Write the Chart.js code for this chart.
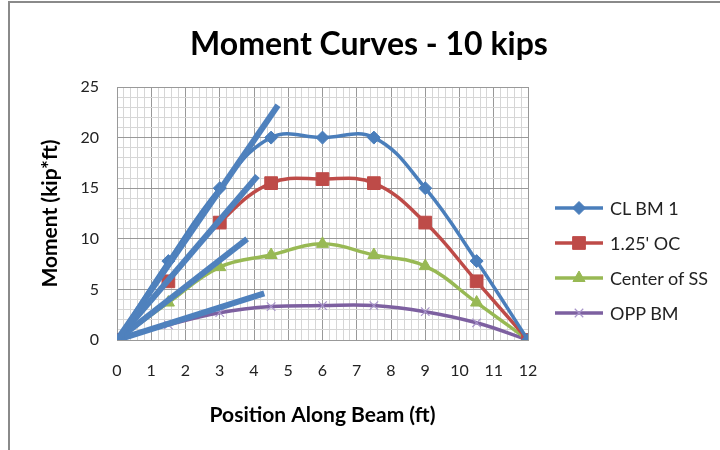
<!DOCTYPE html>
<html>
<head>
<meta charset="utf-8">
<script src="https://cdn.jsdelivr.net/npm/chart.js@4.4.0/dist/chart.umd.min.js"></script>
<style>
  html, body { margin: 0; padding: 0; background: #fff; }
  #wrap { position: relative; width: 720px; height: 450px; font-family: Lato, sans-serif; }
  #frame { position: absolute; left: 8px; top: 1px; right: 0; bottom: 0; border-top: 2px solid #8a8a8a; border-left: 2px solid #8a8a8a; pointer-events: none; }
  #title { position: absolute; left: 0; width: 738px; top: 25px; text-align: center; font-size: 32px; font-weight: bold; line-height: 36px; color: #000; }
  #legend { position: absolute; left: 553px; top: 190px; }
  .item { display: flex; align-items: center; height: 35px; font-size: 18px; color: #222; }
  .item canvas { margin-right: 5px; }
</style>
</head>
<body>
<div id="wrap">
  <canvas id="momentChart" width="720" height="450"></canvas>
  <div id="frame"></div>
  <div id="title">Moment Curves - 10 kips</div>
  <div id="legend"></div>
</div>
<script>
// valores
const positions = [0, 1.5, 3, 4.5, 6, 7.5, 9, 10.5, 12];
const clBm1 = [0, 7.8, 15, 20, 20, 20, 15, 7.8, 0];
const oc125 = [0, 5.8, 11.6, 15.5, 15.9, 15.5, 11.6, 5.8, 0];
const centerSS = [0, 3.7, 7.2, 8.4, 9.5, 8.4, 7.3, 3.7, 0];
const oppBm = [0, 1.5, 2.7, 3.3, 3.4, 3.4, 2.8, 1.7, 0];

const seriesNames = ['CL BM 1', "1.25' OC", 'Center of SS', 'OPP BM'];
const seriesColors = ['#4a7ebb', '#be4b48', '#98b954', '#7d60a0'];
const markerStyles = ['rectRot', 'rect', 'triangle', 'crossRot'];
const markerSizes = [6.5, 9, 7, 6];

// rectas gruesas desde el origen
const tangentStartX = [0, 0, 0, 0];
const tangentStartY = [0, 0, 0, 0];
const tangentEndX = [4.7, 4.1, 3.8, 4.3];
const tangentEndY = [23.2, 16.2, 10.0, 4.6];

const xLabelStep = 1;
const yLabelStep = 5;

function isMultiple(v, step) {
    return Math.abs(v / step - Math.round(v / step)) < 1e-6;
}

document.addEventListener('DOMContentLoaded', function() {
    try {
        const seriesValues = [clBm1, oc125, centerSS, oppBm];
        const datasets = [];

        tangentEndX.forEach(function(ex, i) {
            datasets.push({
                label: 'tangent ' + (i + 1),
                data: [{ x: tangentStartX[i], y: tangentStartY[i] }, { x: ex, y: tangentEndY[i] }],
                showLine: true,
                borderColor: '#4f81bd',
                borderWidth: 6,
                pointRadius: 0,
                tension: 0,
                order: -1
            });
        });

        seriesValues.forEach(function(vals, i) {
            const crossy = markerStyles[i] === 'crossRot';
            datasets.push({
                label: seriesNames[i],
                data: positions.map(function(x, j) { return { x: x, y: vals[j] }; }),
                showLine: true,
                borderColor: seriesColors[i],
                borderWidth: 3.5,
                tension: 0.4,
                pointStyle: markerStyles[i],
                pointRadius: markerSizes[i],
                pointBackgroundColor: seriesColors[i],
                pointBorderColor: crossy ? '#a793c9' : seriesColors[i],
                pointBorderWidth: crossy ? 1.2 : 1
            });
        });

        const tickFont = { family: 'Lato', size: 16 };
        const titleFont = { family: 'Lato', size: 21, weight: 'bold' };

        new Chart(document.getElementById('momentChart').getContext('2d'), {
            type: 'scatter',
            data: { datasets: datasets },
            options: {
                responsive: false,
                animation: false,
                layout: { padding: { left: 28, right: 192, top: 87, bottom: 0 } },
                plugins: {
                    legend: { display: false },
                    tooltip: { enabled: false }
                },
                scales: {
                    x: {
                        type: 'linear',
                        min: 0,
                        max: 12,
                        afterFit: function(s) { s.height = 110; },
                        ticks: {
                            stepSize: 0.2,
                            autoSkip: false,
                            maxRotation: 0,
                            minRotation: 0,
                            padding: 21,
                            color: '#222',
                            font: tickFont,
                            callback: function(v) { return isMultiple(v, xLabelStep) ? Math.round(v) : ''; }
                        },
                        grid: {
                            drawTicks: false,
                            color: function(c) { return c.tick && isMultiple(c.tick.value, xLabelStep) ? '#999' : '#d6d6d6'; }
                        },
                        border: { color: '#999' },
                        title: {
                            display: true,
                            text: 'Position Along Beam (ft)',
                            color: '#000',
                            font: titleFont,
                            padding: { top: 0, bottom: 22 }
                        }
                    },
                    y: {
                        min: 0,
                        max: 25,
                        afterFit: function(s) { s.width = 89; },
                        ticks: {
                            stepSize: 1,
                            autoSkip: false,
                            padding: 18,
                            color: '#222',
                            font: tickFont,
                            callback: function(v) { return isMultiple(v, yLabelStep) ? v : ''; }
                        },
                        grid: {
                            drawTicks: false,
                            color: function(c) { return c.tick && isMultiple(c.tick.value, yLabelStep) ? '#999' : '#d6d6d6'; }
                        },
                        border: { color: '#999' },
                        title: {
                            display: true,
                            text: 'Moment (kip*ft)',
                            color: '#000',
                            font: titleFont,
                            padding: { top: 10, bottom: 0 }
                        }
                    }
                }
            }
        });

        // leyenda en HTML con icono linea + marcador
        const legend = document.getElementById('legend');
        seriesNames.forEach(function(name, i) {
            const row = document.createElement('div');
            row.className = 'item';
            const icon = document.createElement('canvas');
            icon.width = 52;
            icon.height = 20;
            const ctx = icon.getContext('2d');
            ctx.strokeStyle = seriesColors[i];
            ctx.lineWidth = 3.5;
            ctx.beginPath();
            ctx.moveTo(2, 10);
            ctx.lineTo(50, 10);
            ctx.stroke();
            const crossy = markerStyles[i] === 'crossRot';
            ctx.fillStyle = seriesColors[i];
            ctx.strokeStyle = crossy ? '#a793c9' : seriesColors[i];
            ctx.lineWidth = crossy ? 1.2 : 1;
            if (Chart.helpers && Chart.helpers.drawPoint) {
                Chart.helpers.drawPoint(ctx, { pointStyle: markerStyles[i], radius: markerSizes[i], rotation: 0, borderWidth: ctx.lineWidth }, 26, 10);
            }
            row.appendChild(icon);
            const label = document.createElement('span');
            label.textContent = name;
            row.appendChild(label);
            legend.appendChild(row);
        });
    } catch(e) { console.error('chart init', e); }
});
</script>
</body>
</html>
